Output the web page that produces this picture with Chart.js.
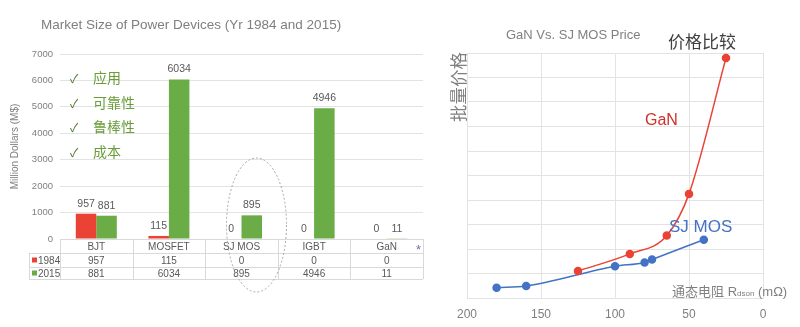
<!DOCTYPE html>
<html>
<head>
<meta charset="utf-8">
<script src="https://cdn.jsdelivr.net/npm/chart.js@4.4.1/dist/chart.umd.min.js"></script>
<style>
	html, body { margin: 0; padding: 0; background: #fff; }
	#wrap { position: relative; width: 800px; height: 327px; overflow: hidden; font-family: "Liberation Sans", Arial, sans-serif; }
	#left { position: absolute; left: 0; top: 0; width: 430px; height: 327px; }
	#right { position: absolute; left: 430px; top: 0; width: 370px; height: 327px; }
	.txt { position: absolute; white-space: nowrap; line-height: 1; }
	.cjk { font-family: "Noto Sans CJK SC", "Liberation Sans", sans-serif; }
	.check { position: absolute; left: 70px; color: #6a9d3a; font-size: 14px; line-height: 1; }
	.check span { display: inline-block; width: 23px; color: #4f7a28; font-size: 12px; }
</style>
</head>
<body>
<div id="wrap">
	<canvas id="left" width="430" height="327"></canvas>
	<canvas id="right" width="370" height="327"></canvas>

	<div class="txt" style="left:41px;top:18px;font-size:13.5px;color:#7f7f7f;">Market Size of Power Devices (Yr 1984 and 2015)</div>
	<div class="check cjk" style="top:70px;"><span>✓</span>应用</div>
	<div class="check cjk" style="top:95px;"><span>✓</span>可靠性</div>
	<div class="check cjk" style="top:119px;"><span>✓</span>鲁棒性</div>
	<div class="check cjk" style="top:144px;"><span>✓</span>成本</div>
	<div class="txt" style="left:416px;top:243px;font-size:13px;color:#6b7a99;">*</div>

	<div class="txt" style="left:506px;top:28px;font-size:13px;color:#808080;">GaN Vs. SJ MOS Price</div>
	<div class="txt cjk" style="left:668px;top:32px;font-size:17px;color:#404040;">价格比较</div>
	<div class="txt cjk" style="left:421px;top:78px;width:74px;height:18px;line-height:18px;text-align:center;font-size:17.5px;color:#7f7f7f;transform:rotate(-90deg);">批量价格</div>
	<div class="txt" style="left:645px;top:112px;font-size:16px;color:#d0302a;">GaN</div>
	<div class="txt" style="left:669px;top:218px;font-size:17px;color:#4472c4;">SJ MOS</div>
	<div class="txt" style="left:672px;top:284px;font-size:13px;color:#7f7f7f;"><span class="cjk">通态电阻</span> R<span style="font-size:8px;">dson</span> (mΩ)</div>
</div>

<script>
const categories = ['BJT', 'MOSFET', 'SJ MOS', 'IGBT', 'GaN'];
const years = ['1984', '2015'];
const sales1984 = [957, 115, 0, 0, 0];
const sales2015 = [881, 6034, 895, 4946, 11];
const marketTicks = [0, 1000, 2000, 3000, 4000, 5000, 6000, 7000];

const ganRdson = [125, 90, 65, 50, 25];
const ganPrice = [1.1, 1.8, 2.55, 4.25, 9.8];
const sjRdson = [180, 160, 100, 80, 75, 40];
const sjPrice = [0.42, 0.49, 1.3, 1.45, 1.57, 2.38];
const rdsonTicks = [200, 150, 100, 50, 0];

const RED = '#ea4335';
const GREEN = '#6aac46';
const BLUE = '#4472c4';
const GRID = '#e3e3e3';
const TEXT = '#595959';
const FONT = '"Liberation Sans", Arial, sans-serif';

// value labels above the bars
const barLabels = {
	id: 'barLabels',
	afterDatasetsDraw(chart) {
		const ctx = chart.ctx;
		ctx.save();
		ctx.font = '10.5px ' + FONT;
		ctx.fillStyle = TEXT;
		ctx.textAlign = 'center';
		ctx.textBaseline = 'middle';
		chart.data.datasets.forEach((ds, i) => {
			chart.getDatasetMeta(i).data.forEach((bar, j) => {
				ctx.fillText(String(ds.data[j]), bar.x, bar.y - 10);
			});
		});
		ctx.restore();
	}
};

// data table under the bar chart + dashed ellipse round SJ MOS
const dataTable = {
	id: 'dataTable',
	afterDraw(chart) {
		const ctx = chart.ctx;
		const x = chart.scales.x;
		const area = chart.chartArea;
		const colW = x.width / categories.length;
		const rows = [area.bottom, area.bottom + 14, area.bottom + 28, area.bottom + 40];
		const leftCol = 29;

		ctx.save();
		ctx.strokeStyle = '#d9d9d9';
		ctx.lineWidth = 1;
		ctx.beginPath();
		ctx.moveTo(area.left, rows[0] + 0.5);
		ctx.lineTo(area.right, rows[0] + 0.5);
		for (let r = 1; r < rows.length; r++) {
			ctx.moveTo(leftCol, rows[r] + 0.5);
			ctx.lineTo(area.right, rows[r] + 0.5);
		}
		for (let c = 0; c <= categories.length; c++) {
			const px = Math.round(area.left + c * colW) + 0.5;
			ctx.moveTo(px, rows[0]);
			ctx.lineTo(px, rows[3]);
		}
		ctx.moveTo(leftCol + 0.5, rows[1]);
		ctx.lineTo(leftCol + 0.5, rows[3]);
		ctx.stroke();

		ctx.font = '10px ' + FONT;
		ctx.fillStyle = TEXT;
		ctx.textAlign = 'center';
		ctx.textBaseline = 'middle';
		const series = [sales1984, sales2015];
		categories.forEach((cat, i) => {
			const cx = x.getPixelForValue(i);
			ctx.fillText(cat, cx, (rows[0] + rows[1]) / 2 + 1);
			ctx.fillText(String(series[0][i]), cx, (rows[1] + rows[2]) / 2 + 1);
			ctx.fillText(String(series[1][i]), cx, (rows[2] + rows[3]) / 2 + 1);
		});

		ctx.textAlign = 'left';
		years.forEach((y, r) => {
			const cy = (rows[r + 1] + rows[r + 2]) / 2;
			ctx.fillStyle = r === 0 ? RED : GREEN;
			ctx.fillRect(32, cy - 2.5, 5, 5);
			ctx.fillStyle = TEXT;
			ctx.fillText(y, 38, cy + 1);
		});

		// ellipse, a bit right of the SJ MOS column centre as in the slide
		const ex = x.getPixelForValue(2) + 15;
		ctx.strokeStyle = '#a6a6a6';
		ctx.setLineDash([2, 2]);
		ctx.beginPath();
		ctx.ellipse(ex, 225, 30, 67, 0, 0, Math.PI * 2);
		ctx.stroke();
		ctx.restore();
	}
};

new Chart(document.getElementById('left'), {
	type: 'bar',
	data: {
		labels: categories,
		datasets: [
			{ label: years[0], data: sales1984, backgroundColor: RED },
			{ label: years[1], data: sales2015, backgroundColor: GREEN }
		]
	},
	options: {
		responsive: false,
		animation: false,
		layout: { padding: { top: 54, right: 7, left: 0, bottom: 0 } },
		datasets: { bar: { categoryPercentage: 0.565, barPercentage: 1 } },
		plugins: { legend: { display: false }, tooltip: { enabled: false } },
		scales: {
			x: {
				grid: { display: false },
				border: { display: false },
				ticks: { display: false },
				afterFit: (s) => { s.height = 88; }
			},
			y: {
				min: 0,
				max: 7000,
				afterBuildTicks: (s) => { s.ticks = marketTicks.map((v) => ({ value: v })); },
				grid: { color: GRID, drawTicks: false },
				border: { display: false },
				ticks: { color: '#7f7f7f', padding: 7, font: { size: 9.5, family: FONT }, callback: (v) => String(v) },
				title: { display: true, text: 'Million Dollars (M$)', color: '#7f7f7f', font: { size: 10, family: FONT }, padding: { top: 9, bottom: 0 } },
				afterFit: (s) => { s.width = 60; }
			}
		}
	},
	plugins: [barLabels, dataTable]
});

new Chart(document.getElementById('right'), {
	type: 'line',
	data: {
		datasets: [
			{
				label: 'GaN',
				data: ganRdson.map((r, i) => ({ x: r, y: ganPrice[i] })),
				borderColor: RED,
				backgroundColor: RED,
				borderWidth: 1.5,
				pointRadius: 3.5,
				cubicInterpolationMode: 'monotone'
			},
			{
				label: 'SJ MOS',
				data: sjRdson.map((r, i) => ({ x: r, y: sjPrice[i] })),
				borderColor: BLUE,
				backgroundColor: BLUE,
				borderWidth: 1.5,
				pointRadius: 3.5,
				cubicInterpolationMode: 'monotone'
			}
		]
	},
	options: {
		responsive: false,
		animation: false,
		layout: { padding: { top: 53, right: 37, left: 0, bottom: 0 } },
		plugins: { legend: { display: false }, tooltip: { enabled: false } },
		scales: {
			x: {
				type: 'linear',
				reverse: true,
				min: 0,
				max: 200,
				afterBuildTicks: (s) => { s.ticks = rdsonTicks.map((v) => ({ value: v })); },
				grid: { color: GRID, drawTicks: false },
				border: { color: GRID },
				ticks: { color: '#7f7f7f', padding: 9, font: { size: 12, family: FONT } },
				afterFit: (s) => { s.height = 29; }
			},
			y: {
				min: 0,
				max: 10,
				ticks: { display: false, stepSize: 1 },
				grid: { color: GRID, drawTicks: false },
				border: { color: GRID },
				afterFit: (s) => { s.width = 37; }
			}
		}
	}
});
</script>
</body>
</html>
